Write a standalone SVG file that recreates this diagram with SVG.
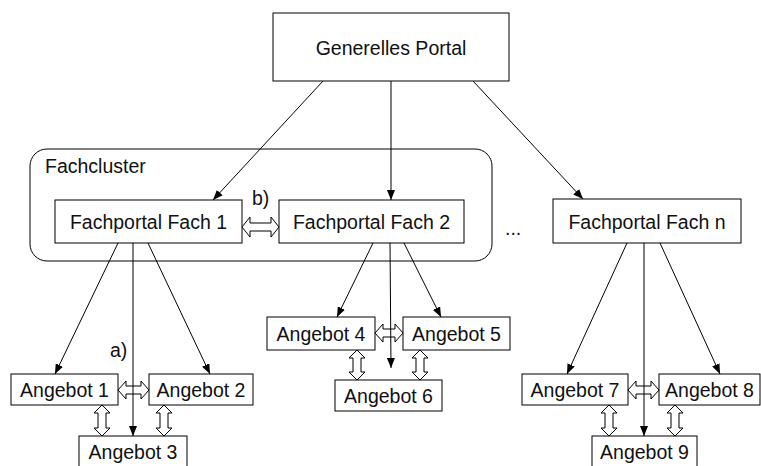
<svg xmlns="http://www.w3.org/2000/svg" width="761" height="466" viewBox="0 0 761 466">
<defs>
<style>
.box{fill:#fff;stroke:#000;stroke-width:1}
.t{font-family:"Liberation Sans",Arial,sans-serif;font-size:19.5px;fill:#111;text-anchor:middle}
.l{font-family:"Liberation Sans",Arial,sans-serif;font-size:19.5px;fill:#111}
.ln{stroke:#000;stroke-width:1;fill:none;marker-end:url(#ah)}
.da{fill:#fff;stroke:#000;stroke-width:1}
</style>
<marker id="ah" viewBox="0 0 10 8" refX="10" refY="4" markerWidth="10" markerHeight="8" markerUnits="userSpaceOnUse" orient="auto">
<path d="M0,0 L10,4 L0,8 Z" fill="#000"/>
</marker>
</defs>
<rect width="761" height="466" fill="#fff"/>
<g id="cluster">
<rect x="30" y="149" width="462" height="112" rx="17" ry="17" fill="none" stroke="#000" stroke-width="1"/>
<text class="l" x="45" y="173">Fachcluster</text>
</g>
<g id="portal"><rect class="box" x="273" y="13" width="236" height="68"/><text class="t" x="391" y="55">Generelles Portal</text></g>
<g id="fach1"><rect class="box" x="55" y="200" width="187" height="43"/><text class="t" x="148.5" y="229">Fachportal Fach 1</text></g>
<g id="fach2"><rect class="box" x="279" y="200" width="185" height="43"/><text class="t" x="371.5" y="229">Fachportal Fach 2</text></g>
<g id="fachn"><rect class="box" x="553" y="199" width="188" height="44"/><text class="t" x="647" y="229">Fachportal Fach n</text></g>
<g id="dots"><text class="l" x="505" y="235">...</text></g>
<g id="a1"><rect class="box" x="11" y="374" width="107" height="31"/><text class="t" x="64.5" y="397">Angebot 1</text></g>
<g id="a2"><rect class="box" x="149" y="374" width="104" height="31"/><text class="t" x="201" y="397">Angebot 2</text></g>
<g id="a3"><rect class="box" x="79" y="436" width="108" height="32"/><text class="t" x="133" y="459">Angebot 3</text></g>
<g id="a4"><rect class="box" x="267" y="317" width="108" height="33"/><text class="t" x="321" y="341">Angebot 4</text></g>
<g id="a5"><rect class="box" x="403" y="317" width="107" height="33"/><text class="t" x="456.5" y="341">Angebot 5</text></g>
<g id="a6"><rect class="box" x="335" y="380" width="107" height="31"/><text class="t" x="388.5" y="403">Angebot 6</text></g>
<g id="a7"><rect class="box" x="522" y="374" width="106" height="31"/><text class="t" x="575" y="397">Angebot 7</text></g>
<g id="a8"><rect class="box" x="659" y="374" width="101" height="31"/><text class="t" x="709.5" y="397">Angebot 8</text></g>
<g id="a9"><rect class="box" x="592" y="436" width="105" height="32"/><text class="t" x="644.5" y="459">Angebot 9</text></g>
<g id="connectors">
<path class="da" d="M242,227 L250,217 L250,223 L271,223 L271,217 L279,227 L271,237 L271,231 L250,231 L250,237 Z"/>
<path class="da" d="M118,390 L126,381 L126,386 L141,386 L141,381 L149,390 L141,399 L141,394 L126,394 L126,399 Z"/>
<path class="da" d="M375,333 L383,324 L383,329 L395,329 L395,324 L403,333 L395,342 L395,337 L383,337 L383,342 Z"/>
<path class="da" d="M628,390 L636,381 L636,386 L651,386 L651,381 L659,390 L651,399 L651,394 L636,394 L636,399 Z"/>
<path class="da" d="M102,405 L110,413 L106,413 L106,428 L110,428 L102,436 L94,428 L98,428 L98,413 L94,413 Z"/>
<path class="da" d="M164,405 L172,413 L168,413 L168,428 L172,428 L164,436 L156,428 L160,428 L160,413 L156,413 Z"/>
<path class="da" d="M357,350 L365,358 L361,358 L361,372 L365,372 L357,380 L349,372 L353,372 L353,358 L349,358 Z"/>
<path class="da" d="M420,350 L428,358 L424,358 L424,372 L428,372 L420,380 L412,372 L416,372 L416,358 L412,358 Z"/>
<path class="da" d="M609,405 L617,413 L613,413 L613,428 L617,428 L609,436 L601,428 L605,428 L605,413 L601,413 Z"/>
<path class="da" d="M675,405 L683,413 L679,413 L679,428 L683,428 L675,436 L667,428 L671,428 L671,413 L667,413 Z"/>
<line class="ln" x1="323" y1="81" x2="213" y2="200"/>
<line class="ln" x1="391" y1="81" x2="391" y2="200"/>
<line class="ln" x1="473" y1="81" x2="583" y2="199"/>
<line class="ln" x1="118" y1="243" x2="55" y2="374"/>
<line class="ln" x1="133" y1="243" x2="133" y2="436"/>
<line class="ln" x1="148" y1="243" x2="210" y2="374"/>
<line class="ln" x1="373" y1="243" x2="337" y2="317"/>
<line class="ln" x1="390" y1="243" x2="391" y2="368"/>
<line class="ln" x1="404" y1="243" x2="441" y2="317"/>
<line class="ln" x1="627" y1="243" x2="567" y2="374"/>
<line class="ln" x1="644" y1="243" x2="644" y2="436"/>
<line class="ln" x1="660" y1="243" x2="720" y2="374"/>
<text class="l" x="252" y="205">b)</text>
<text class="l" x="110" y="357">a)</text>
</g>
</svg>
